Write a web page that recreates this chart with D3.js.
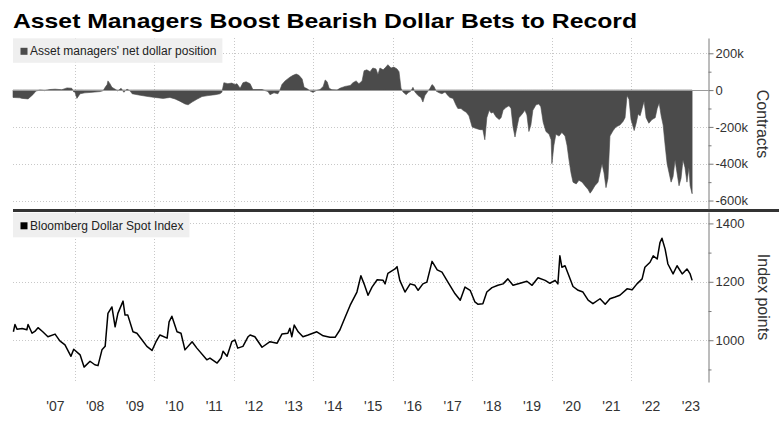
<!DOCTYPE html>
<html>
<head>
<meta charset="utf-8">
<script src="https://cdn.jsdelivr.net/npm/d3@7/dist/d3.min.js"></script>
<style>
  html, body { margin: 0; padding: 0; background: #fff; }
  svg { display: block; }
  text { font-family: "Liberation Sans", Arial, sans-serif; }
</style>
</head>
<body>
<svg id="chart" width="779" height="424"></svg>
<script>
// ---------------- DATA ----------------
const chartTitle = "Asset Managers Boost Bearish Dollar Bets to Record";
const positionLabel = "Asset managers' net dollar position";
const indexLabel = "Bloomberg Dollar Spot Index";

// Asset managers' net dollar position (contracts), dates as decimal years
const positionDates = [
  2006.44,2006.61,2006.67,2006.82,2006.94,2007.02,2007.12,2007.24,2007.37,2007.50,2007.67,2007.80,2007.92,2007.97,
  2008.00,2008.05,2008.13,2008.25,2008.43,2008.63,2008.71,2008.76,2008.81,2008.83,2008.88,2008.93,
  2009.01,2009.08,2009.16,2009.23,2009.31,2009.39,2009.44,2009.64,2009.84,2010.01,2010.22,2010.39,2010.52,2010.64,
  2010.77,2010.85,2010.95,2011.07,2011.20,2011.35,2011.53,2011.65,2011.70,2011.75,2011.85,2011.95,2012.03,2012.08,
  2012.16,2012.23,2012.31,2012.41,2012.48,2012.71,2012.86,2012.91,2013.01,2013.11,2013.16,2013.21,2013.29,2013.41,
  2013.49,2013.57,2013.64,2013.72,2013.77,2013.84,2013.92,2013.99,2014.07,2014.17,2014.25,2014.30,2014.35,2014.40,
  2014.47,2014.60,2014.67,2014.80,2014.93,2015.00,2015.08,2015.15,2015.23,2015.28,2015.35,2015.43,2015.50,2015.58,
  2015.63,2015.68,2015.76,2015.83,2015.88,2015.96,2016.03,2016.11,2016.16,2016.21,2016.26,2016.34,2016.39,2016.46,
  2016.51,2016.56,2016.64,2016.71,2016.76,2016.81,2016.89,2016.94,2016.99,2017.04,2017.09,2017.17,2017.24,2017.32,
  2017.37,2017.44,2017.52,2017.59,2017.64,2017.72,2017.77,2017.85,2017.92,2018.00,2018.05,2018.12,2018.20,2018.27,
  2018.32,2018.37,2018.43,2018.48,2018.53,2018.60,2018.68,2018.73,2018.78,2018.85,2018.93,2018.98,2019.03,2019.08,
  2019.13,2019.18,2019.26,2019.33,2019.38,2019.43,2019.48,2019.53,2019.61,2019.68,2019.73,2019.79,2019.86,2019.94,
  2019.99,2020.01,2020.06,2020.11,2020.19,2020.26,2020.34,2020.39,2020.44,2020.49,2020.54,2020.62,2020.69,2020.77,
  2020.84,2020.92,2020.97,2021.02,2021.09,2021.17,2021.22,2021.27,2021.32,2021.37,2021.42,2021.47,2021.55,2021.62,
  2021.72,2021.80,2021.85,2021.90,2021.95,2022.00,2022.08,2022.13,2022.18,2022.23,2022.28,2022.33,2022.38,2022.45,
  2022.53,2022.61,2022.66,2022.71,2022.76,2022.81,2022.86,2022.91,2022.96,2023.01,2023.06,2023.11,2023.16,2023.21,
  2023.26,2023.31,2023.36,2023.41,2023.46,2023.49,2023.54
];
const positionValues = [
  -40000,-42000,-45000,-48000,-25000,-5000,0,-3000,3000,5000,2000,12000,10000,-10000,
  -10000,-45000,-20000,-15000,-12000,-8000,-3000,15000,30000,50000,35000,15000,
  5000,-5000,10000,-12000,5000,-5000,-20000,-28000,-35000,-40000,-45000,-40000,-48000,-60000,
  -75000,-80000,-65000,-50000,-35000,-30000,-25000,-20000,-12000,40000,35000,38000,30000,35000,
  10000,40000,45000,35000,3000,3000,-8000,-25000,-15000,-20000,0,30000,50000,70000,
  80000,87000,80000,60000,15000,8000,-5000,-12000,-3000,3000,20000,55000,45000,10000,
  2000,0,10000,20000,25000,40000,50000,35000,50000,105000,110000,100000,120000,115000,
  85000,120000,110000,125000,138000,120000,125000,115000,100000,10000,-10000,-25000,-15000,-5000,
  15000,-10000,-30000,-40000,-65000,-30000,-5000,10000,30000,20000,-5000,-15000,-20000,-10000,
  -25000,-40000,-45000,-80000,-100000,-100000,-110000,-120000,-140000,-200000,-205000,-210000,-215000,-215000,
  -270000,-150000,-110000,-125000,-120000,-145000,-160000,-150000,-110000,-95000,-85000,-100000,-200000,-255000,
  -200000,-150000,-130000,-110000,-135000,-225000,-190000,-110000,-80000,-75000,-90000,-175000,-225000,-240000,
  -270000,-400000,-300000,-240000,-250000,-230000,-250000,-300000,-380000,-450000,-500000,-510000,-490000,-500000,
  -520000,-540000,-560000,-545000,-520000,-500000,-450000,-400000,-450000,-530000,-480000,-250000,-220000,-200000,
  -190000,-170000,-150000,-30000,-50000,-160000,-220000,-180000,-130000,-140000,-100000,-60000,-150000,-180000,
  -160000,-150000,-100000,-70000,-140000,-190000,-300000,-400000,-450000,-500000,-470000,-380000,-450000,-520000,
  -480000,-380000,-420000,-500000,-420000,-520000,-563000
];

// Bloomberg Dollar Spot Index (index points), dates as decimal years
const indexDates = [
  2006.45,2006.49,2006.54,2006.67,2006.79,2006.82,2006.92,2006.99,2007.07,2007.19,2007.32,2007.50,2007.62,2007.75,
  2007.90,2007.97,2008.13,2008.23,2008.38,2008.50,2008.58,2008.68,2008.76,2008.83,2008.93,2009.01,2009.08,2009.21,
  2009.26,2009.33,2009.46,2009.56,2009.69,2009.81,2009.94,2010.04,2010.14,2010.32,2010.37,2010.44,2010.57,2010.67,
  2010.77,2010.95,2011.07,2011.32,2011.40,2011.58,2011.68,2011.73,2011.83,2011.95,2012.03,2012.10,2012.23,2012.36,
  2012.41,2012.53,2012.71,2012.91,2013.09,2013.21,2013.36,2013.41,2013.46,2013.52,2013.62,2013.74,2013.87,2014.09,
  2014.25,2014.42,2014.55,2014.67,2014.80,2014.93,2015.10,2015.20,2015.28,2015.38,2015.48,2015.61,2015.76,2015.81,
  2015.88,2016.06,2016.11,2016.18,2016.31,2016.44,2016.56,2016.64,2016.76,2016.86,2016.99,2017.12,2017.24,2017.39,
  2017.57,2017.70,2017.82,2017.95,2018.07,2018.15,2018.27,2018.37,2018.50,2018.65,2018.78,2018.90,2019.03,2019.21,
  2019.38,2019.51,2019.66,2019.84,2019.96,2020.09,2020.16,2020.21,2020.26,2020.34,2020.42,2020.54,2020.67,2020.79,
  2020.92,2021.04,2021.22,2021.35,2021.47,2021.60,2021.72,2021.90,2022.03,2022.15,2022.28,2022.35,2022.48,2022.56,
  2022.66,2022.73,2022.78,2022.86,2022.93,2023.06,2023.16,2023.29,2023.41,2023.49,2023.54
];
const indexValues = [
  1029,1054,1038,1040,1036,1054,1024,1030,1043,1029,1012,1021,998,984,
  945,969,950,908,928,916,913,967,979,1092,1114,1046,1092,1134,
  1086,1086,1029,1024,1001,979,965,995,1018,1007,1063,1082,1029,1024,
  967,995,973,933,939,922,939,962,945,995,1001,973,979,1012,
  1018,1012,976,995,990,1021,1024,1041,1012,1052,1029,1012,1018,1029,
  1015,1010,1010,1035,1078,1120,1165,1221,1193,1154,1182,1207,1205,1193,
  1229,1244,1252,1205,1165,1193,1188,1171,1193,1199,1270,1241,1233,1199,
  1159,1137,1182,1171,1131,1123,1125,1165,1180,1188,1193,1210,1188,1195,
  1202,1188,1214,1205,1195,1205,1193,1289,1250,1255,1227,1184,1171,1165,
  1137,1125,1142,1123,1142,1148,1154,1176,1173,1193,1210,1250,1267,1289,
  1278,1334,1349,1312,1261,1227,1255,1227,1244,1227,1205
];

// Axis ticks
const xLabelYears = [2007,2008,2009,2010,2011,2012,2013,2014,2015,2016,2017,2018,2019,2020,2021,2022,2023];
const xGridYears = [2008,2010,2012,2014,2016,2018,2020,2022];
const topTicks = [200000, 0, -200000, -400000, -600000];
const topTickLabels = ["200k", "0", "-200k", "-400k", "-600k"];
const topMinorTicks = [100000, -100000, -300000, -500000];
const bottomTicks = [1400, 1200, 1000];
const bottomTickLabels = ["1400", "1200", "1000"];
const bottomMinorTicks = [1300, 1100, 900];
const topAxisTitle = "Contracts";
const bottomAxisTitle = "Index points";

// ---------------- HELPERS ----------------
function decToDate(d) {
  const y = Math.floor(d);
  const s = new Date(y, 0, 1).getTime(), e = new Date(y + 1, 0, 1).getTime();
  return new Date(s + (d - y) * (e - s));
}

const svg = d3.select("#chart");
const W = 779, H = 424;
const left = 13, right = 708;
const top1 = 38, bot1 = 209;
const top2 = 212, bot2 = 382;

const x = d3.scaleTime()
  .domain([decToDate(2006.44), decToDate(2023.94)])
  .range([left, right]);
const yTop = d3.scaleLinear().domain([-646000, 283000]).range([bot1, top1]);
const yBot = d3.scaleLinear().domain([857, 1439]).range([bot2, top2]);

const posData = positionDates.map((d, i) => ({ date: decToDate(d), v: positionValues[i] }));
const idxData = indexDates.map((d, i) => ({ date: decToDate(d), v: indexValues[i] }));

const gridColor = "#c8c8c8";
const axisColor = "#7a7a7a";
const textColor = "#333";

// ---------------- TITLE ----------------
svg.append("text")
  .attr("x", left).attr("y", 28)
  .attr("font-family", "'DejaVu Sans', Verdana, sans-serif")
  .attr("font-weight", "bold")
  .attr("font-size", 21)
  .attr("fill", "#000")
  .attr("textLength", 624)
  .attr("lengthAdjust", "spacingAndGlyphs")
  .text(chartTitle);

// ---------------- GRIDLINES ----------------
const grid = svg.append("g");
xGridYears.forEach(yr => {
  const gx = Math.round(x(new Date(yr, 0, 1))) + 0.5;
  grid.append("line").attr("x1", gx).attr("x2", gx).attr("y1", top1).attr("y2", bot1)
    .attr("stroke", gridColor).attr("stroke-dasharray", "1,2");
  grid.append("line").attr("x1", gx).attr("x2", gx).attr("y1", top2).attr("y2", bot2)
    .attr("stroke", gridColor).attr("stroke-dasharray", "1,2");
});
topTicks.filter(t => t !== 0).forEach(t => {
  const gy = Math.round(yTop(t)) + 0.5;
  grid.append("line").attr("x1", left).attr("x2", right).attr("y1", gy).attr("y2", gy)
    .attr("stroke", gridColor).attr("stroke-dasharray", "1,2");
});
bottomTicks.forEach(t => {
  const gy = Math.round(yBot(t)) + 0.5;
  grid.append("line").attr("x1", left).attr("x2", right).attr("y1", gy).attr("y2", gy)
    .attr("stroke", gridColor).attr("stroke-dasharray", "1,2");
});

// ---------------- TOP PANEL AREA ----------------
const area = d3.area()
  .x(d => x(d.date))
  .y0(yTop(0))
  .y1(d => yTop(d.v))
  .curve(d3.curveLinear);
svg.append("path").datum(posData)
  .attr("d", area)
  .attr("fill", "#4b4b4b")
  .attr("stroke", "#4b4b4b")
  .attr("stroke-width", 0.6);

svg.append("line")
  .attr("x1", left).attr("x2", right)
  .attr("y1", Math.round(yTop(0)) + 0.5).attr("y2", Math.round(yTop(0)) + 0.5)
  .attr("stroke", "#9a9a9a").attr("stroke-width", 1);

// ---------------- BOTTOM PANEL LINE ----------------
const line = d3.line().x(d => x(d.date)).y(d => yBot(d.v)).curve(d3.curveLinear);
svg.append("path").datum(idxData)
  .attr("d", line)
  .attr("fill", "none")
  .attr("stroke", "#000")
  .attr("stroke-width", 1.5)
  .attr("stroke-linejoin", "round");

// ---------------- SEPARATOR ----------------
svg.append("rect")
  .attr("x", left).attr("y", 209).attr("width", W - left).attr("height", 3)
  .attr("fill", "#333");

// ---------------- LEGENDS ----------------
function legend(yTopBox, label, color) {
  const g = svg.append("g");
  const bg = g.append("rect").attr("x", left).attr("y", yTopBox).attr("height", 24.5).attr("fill", "#efefef");
  g.append("rect").attr("x", 20.5).attr("y", yTopBox + 9.5).attr("width", 7).attr("height", 7).attr("fill", color);
  const t = g.append("text").attr("x", 30).attr("y", yTopBox + 17)
    .attr("font-size", 12).attr("fill", "#222").text(label);
  const w = t.node().getComputedTextLength();
  bg.attr("width", 30 + w + 6 - left);
}
legend(38.3, positionLabel, "#4b4b4b");
legend(212.8, indexLabel, "#000");

// ---------------- RIGHT AXES ----------------
function styleAxis(g) {
  g.select(".domain").attr("stroke", axisColor);
  g.selectAll(".tick line").attr("stroke", axisColor);
  g.selectAll(".tick text").attr("fill", textColor)
    .attr("font-family", "'Liberation Sans', Arial, sans-serif")
    .attr("font-size", 13);
}

const gTopMinor = svg.append("g").attr("transform", `translate(${right + 0.5},0)`)
  .call(d3.axisRight(yTop).tickValues(topMinorTicks).tickSize(3).tickSizeOuter(0).tickFormat(""));
gTopMinor.select(".domain").remove();
gTopMinor.selectAll(".tick line").attr("stroke", axisColor);

const gTop = svg.append("g").attr("transform", `translate(${right + 0.5},0)`)
  .call(d3.axisRight(yTop).tickValues(topTicks).tickSize(5).tickSizeOuter(0).tickPadding(2)
    .tickFormat((d, i) => topTickLabels[i]));
styleAxis(gTop);

const gBotMinor = svg.append("g").attr("transform", `translate(${right + 0.5},0)`)
  .call(d3.axisRight(yBot).tickValues(bottomMinorTicks).tickSize(3).tickSizeOuter(0).tickFormat(""));
gBotMinor.select(".domain").remove();
gBotMinor.selectAll(".tick line").attr("stroke", axisColor);

const gBot = svg.append("g").attr("transform", `translate(${right + 0.5},0)`)
  .call(d3.axisRight(yBot).tickValues(bottomTicks).tickSize(5).tickSizeOuter(0).tickPadding(2)
    .tickFormat((d, i) => bottomTickLabels[i]));
styleAxis(gBot);

// axis titles
svg.append("text")
  .attr("transform", `translate(757,124) rotate(90)`)
  .attr("text-anchor", "middle")
  .attr("font-size", 16).attr("fill", textColor)
  .text(topAxisTitle);
svg.append("text")
  .attr("transform", `translate(758,297) rotate(90)`)
  .attr("text-anchor", "middle")
  .attr("font-size", 16).attr("fill", textColor)
  .text(bottomAxisTitle);

// ---------------- X AXIS LABELS ----------------
const gX = svg.append("g").attr("transform", `translate(0,${bot2})`)
  .call(d3.axisBottom(x)
    .tickValues(xLabelYears.map(y => new Date(y, 6, 1)))
    .tickSize(0).tickPadding(19)
    .tickFormat(d => "'" + String(d.getFullYear()).slice(2)));
gX.select(".domain").remove();
gX.selectAll(".tick text").attr("fill", textColor)
  .attr("font-family", "'Liberation Sans', Arial, sans-serif")
  .attr("font-size", 14);
</script>
</body>
</html>
